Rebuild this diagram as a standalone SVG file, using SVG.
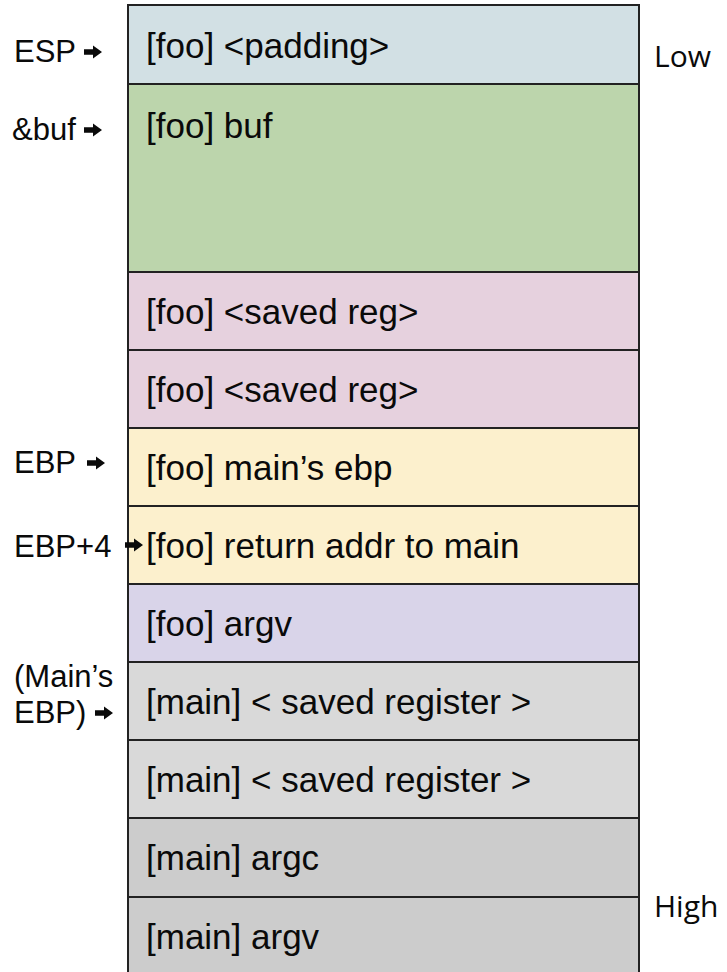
<svg xmlns="http://www.w3.org/2000/svg" width="727" height="972" viewBox="0 0 727 972">
<style>
.cell{stroke:#222;stroke-width:2}
.t{font-family:"Liberation Sans",Arial,sans-serif;font-size:35px;fill:#0a0a0a}
.l{font-family:"Liberation Sans",Arial,sans-serif;font-size:31px;fill:#0a0a0a}
.r{font-family:"Open Sans","Liberation Sans",sans-serif;font-size:30px;fill:#0a0a0a}
.arr{fill:#0a0a0a}
</style>
<defs>
<path id="a" d="M0,-2.8 L9,-2.8 L9,-6.5 L18,0 L9,6.5 L9,2.8 L0,2.8 Z"/>
</defs>
<rect width="727" height="972" fill="#fff"/>
<g id="cell-padding"><rect class="cell" x="128" y="5" width="511" height="79" fill="#d2e0e4"/><text class="t" x="146" y="58">[foo] &lt;padding&gt;</text></g>
<g id="cell-buf"><rect class="cell" x="128" y="84" width="511" height="188" fill="#bcd5ac"/><text class="t" x="146" y="138">[foo] buf</text></g>
<g id="cell-saved1"><rect class="cell" x="128" y="272" width="511" height="78" fill="#e6d1de"/><text class="t" x="146" y="324">[foo] &lt;saved reg&gt;</text></g>
<g id="cell-saved2"><rect class="cell" x="128" y="350" width="511" height="78" fill="#e6d1de"/><text class="t" x="146" y="402">[foo] &lt;saved reg&gt;</text></g>
<g id="cell-ebp"><rect class="cell" x="128" y="428" width="511" height="78" fill="#fcf0cd"/><text class="t" x="146" y="480">[foo] main’s ebp</text></g>
<g id="cell-ret"><rect class="cell" x="128" y="506" width="511" height="78" fill="#fcf0cd"/><text class="t" x="146" y="558">[foo] return addr to main</text></g>
<g id="cell-argv"><rect class="cell" x="128" y="584" width="511" height="78" fill="#d9d4e9"/><text class="t" x="146" y="636">[foo] argv</text></g>
<g id="cell-main-saved1"><rect class="cell" x="128" y="662" width="511" height="78" fill="#d9d9d9"/><text class="t" x="146" y="714">[main] &lt; saved register &gt;</text></g>
<g id="cell-main-saved2"><rect class="cell" x="128" y="740" width="511" height="78" fill="#d9d9d9"/><text class="t" x="146" y="792">[main] &lt; saved register &gt;</text></g>
<g id="cell-main-argc"><rect class="cell" x="128" y="818" width="511" height="79" fill="#cccccc"/><text class="t" x="146" y="870">[main] argc</text></g>
<g id="cell-main-argv"><rect class="cell" x="128" y="897" width="511" height="90" fill="#cccccc"/><text class="t" x="146" y="949">[main] argv</text></g>
<g id="labels">
<text class="l" x="14" y="62">ESP</text>
<text class="l" x="12" y="140">&amp;buf</text>
<text class="l" x="14" y="473">EBP</text>
<text class="l" x="14" y="557">EBP+4</text>
<text class="l" x="14" y="687">(Main’s</text>
<text class="l" x="14" y="723">EBP)</text>
<text class="r" x="654" y="67">Low</text>
<text class="r" x="654" y="917">High</text>
</g>
<g id="connectors">
<use href="#a" class="arr" x="84" y="52"/>
<use href="#a" class="arr" x="84" y="130"/>
<use href="#a" class="arr" x="87" y="463"/>
<use href="#a" class="arr" x="125" y="545"/>
<use href="#a" class="arr" x="95" y="713"/>
</g>
</svg>
